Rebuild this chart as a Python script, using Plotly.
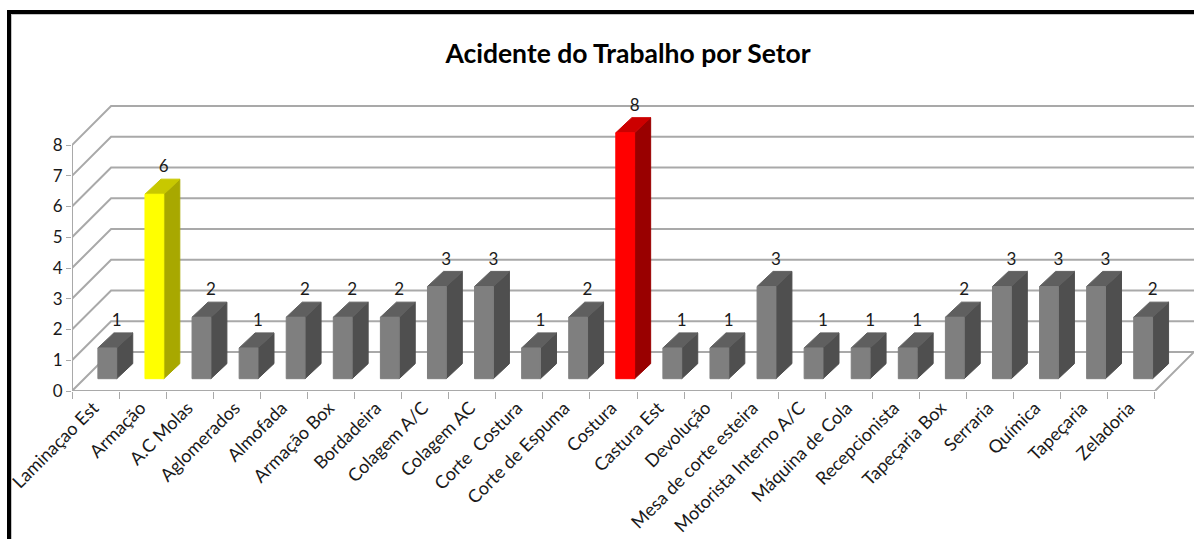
import plotly.graph_objects as go

# Data
setores = [
    "Laminaçao Est", "Armação", "A.C Molas", "Aglomerados", "Almofada", "Armação Box",
    "Bordadeira", "Colagem A/C", "Colagem AC", "Corte  Costura", "Corte de Espuma", "Costura",
    "Castura Est", "Devolução", "Mesa de corte esteira", "Motorista Interno A/C",
    "Máquina de Cola", "Recepcionista", "Tapeçaria Box", "Serraria", "Química", "Tapeçaria",
    "Zeladoria",
]
acidentes = [1, 6, 2, 1, 2, 2, 2, 3, 3, 1, 2, 8, 1, 1, 3, 1, 1, 1, 2, 3, 3, 3, 2]
y_ticks = [0, 1, 2, 3, 4, 5, 6, 7, 8]

# Colours: front, top, side
GREY = ("#7f7f7f", "#5f5f5f", "#4f4f4f")
YELLOW = ("#ffff00", "#c8c800", "#a8a800")
RED = ("#ff0000", "#cc0000", "#990000")
highlight = {"Armação": YELLOW, "Costura": RED}

GRID = "#a9a9a9"
TEXT = "#1a1a1a"
FONT = "Lato, 'Open Sans', sans-serif"

# Fake 3D projection, in axis units
DEPTH_X, DEPTH_Y = 0.83, 1.27      # wall depth
BAR_DX, BAR_DY = 0.34, 0.49        # bar depth
BAR_SHIFT, BAR_HALF = 0.25, 0.2    # bar front face
BAR_BASE = 0.4
X_MIN, X_LAST, X_MAX = -0.5, len(setores) - 0.5, len(setores) - 0.5 + DEPTH_X
Y_MAX = 9.4

# Plot box in pixels
W, H = 1194, 539
L, T, B = 72, 102, 148


def line(xs, ys):
    return go.Scatter(x=xs, y=ys, mode="lines", line=dict(color=GRID, width=2),
                      cliponaxis=False, showlegend=False, hoverinfo="skip")


def face(xs, ys, color):
    return go.Scatter(x=xs, y=ys, mode="lines", fill="toself", fillcolor=color,
                      line=dict(color=color, width=1), cliponaxis=False,
                      showlegend=False, hoverinfo="skip")


def px_x(px):
    return (px - L) / (W - L)


def px_y(py):
    return (H - B - py) / (H - T - B)


def frame_line(x0, y0, x1, y1, color, width):
    return dict(type="line", xref="paper", yref="paper", x0=px_x(x0), y0=px_y(y0),
                x1=px_x(x1), y1=px_y(y1), line=dict(color=color, width=width))


fig = go.Figure()

# walls and floor
for v in y_ticks:
    fig.add_trace(line([X_MIN, X_MIN + DEPTH_X, X_MAX], [v, v + DEPTH_Y, v + DEPTH_Y]))
fig.add_trace(line([X_MIN, X_MIN], [y_ticks[0], y_ticks[-1]]))
fig.add_trace(line([X_MIN, X_LAST, X_MAX], [0, 0, DEPTH_Y]))

# bars
for i, (nome, v) in enumerate(zip(setores, acidentes)):
    front, top, side = highlight.get(nome, GREY)
    x0, x1 = i + BAR_SHIFT - BAR_HALF, i + BAR_SHIFT + BAR_HALF
    y0, y1 = BAR_BASE, BAR_BASE + v
    fig.add_trace(face([x1, x1 + BAR_DX, x1 + BAR_DX, x1, x1],
                       [y0, y0 + BAR_DY, y1 + BAR_DY, y1, y0], side))
    fig.add_trace(face([x0, x0 + BAR_DX, x1 + BAR_DX, x1, x0],
                       [y1, y1 + BAR_DY, y1 + BAR_DY, y1, y1], top))
    fig.add_trace(face([x0, x1, x1, x0, x0], [y0, y0, y1, y1, y0], front))

# value labels
fig.add_trace(go.Scatter(
    x=[i + BAR_SHIFT + 0.2 for i in range(len(setores))],
    y=[v + BAR_BASE + 0.85 for v in acidentes],
    mode="text", text=[str(v) for v in acidentes], textposition="middle center",
    textfont=dict(family=FONT, size=17, color=TEXT), cliponaxis=False,
    showlegend=False, hoverinfo="skip",
))

fig.update_layout(
    width=W, height=H,
    margin=dict(l=L, r=0, t=T, b=B, pad=0),
    paper_bgcolor="white", plot_bgcolor="white",
    title=dict(text="<b>Acidente do Trabalho por Setor</b>", x=628 / W, xref="container",
               xanchor="center", y=1 - 54 / H, yref="container", yanchor="middle",
               font=dict(family=FONT, size=26.5, color="black")),
    xaxis=dict(range=[X_MIN, X_MAX], tickmode="array", tickvals=list(range(len(setores))),
               ticktext=setores, tickangle=-45, ticks="", showgrid=False, zeroline=False,
               showline=False, ticklabelstandoff=2, ticklabelshift=-2,
               tickfont=dict(family=FONT, size=18, color=TEXT),
               minor=dict(tickmode="linear", tick0=-0.5, dtick=1, ticks="outside", ticklen=7,
                          tickcolor=GRID, tickwidth=1, showgrid=False)),
    yaxis=dict(range=[0, Y_MAX], tickmode="array", tickvals=y_ticks, ticks="outside", ticklen=5,
               tickcolor=GRID, tickwidth=1, showgrid=False, zeroline=False, showline=False,
               tickfont=dict(family=FONT, size=17, color=TEXT)),
    # black frame of the original picture, with its faint shadow
    shapes=[
        frame_line(11, 14.5, W, 14.5, "#c4c4c4", 1),
        frame_line(11.5, 14, 11.5, H, "#c4c4c4", 1),
        frame_line(7, 12, W, 12, "black", 4),
        frame_line(9, 10, 9, H, "black", 4),
    ],
)

# page margin would push the chart 8px off
fig.write_html("out.html", config={"displayModeBar": False},
               post_script="document.body.style.margin='0';document.body.style.overflow='hidden';")
